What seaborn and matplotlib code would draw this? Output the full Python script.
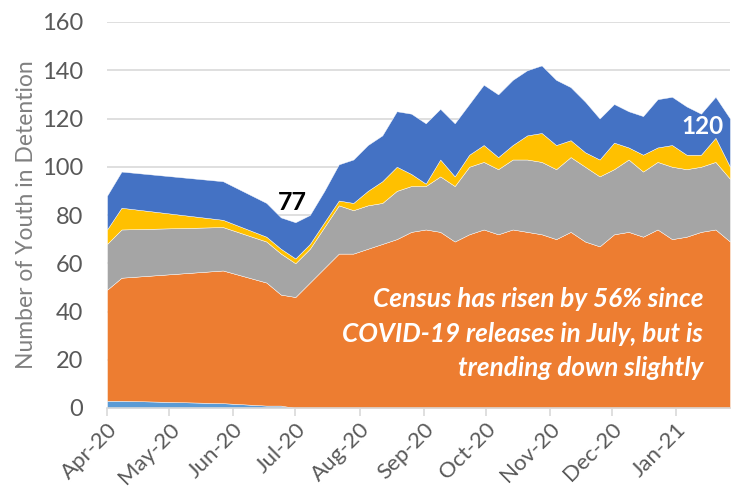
import pandas as pd
import matplotlib.pyplot as plt
import matplotlib.dates as mdates
import seaborn as sns

# Weekly census dates (Wednesdays); some weeks in spring are missing
dates = pd.to_datetime([
    "2020-04-01", "2020-04-08", "2020-05-27", "2020-06-17", "2020-06-24",
    "2020-07-01", "2020-07-08", "2020-07-15", "2020-07-22", "2020-07-29",
    "2020-08-05", "2020-08-12", "2020-08-19", "2020-08-26", "2020-09-02",
    "2020-09-09", "2020-09-16", "2020-09-23", "2020-09-30", "2020-10-07",
    "2020-10-14", "2020-10-21", "2020-10-28", "2020-11-04", "2020-11-11",
    "2020-11-18", "2020-11-25", "2020-12-02", "2020-12-09", "2020-12-16",
    "2020-12-23", "2020-12-30", "2021-01-06", "2021-01-13", "2021-01-20",
    "2021-01-27",
])

# stacked series, bottom to top
light_blue = [3, 3, 2, 1, 1, 0, 0, 0, 0, 0, 0, 0, 0, 0, 0, 0, 0, 0,
              0, 0, 0, 0, 0, 0, 0, 0, 0, 0, 0, 0, 0, 0, 0, 0, 0, 0]
orange = [46, 51, 55, 51, 46, 46, 52, 58, 64, 64, 66, 68, 70, 73, 74, 73, 69, 72,
          74, 72, 74, 73, 72, 70, 73, 69, 67, 72, 73, 71, 74, 70, 71, 73, 74, 69]
gray = [19, 20, 18, 17, 17, 14, 14, 17, 20, 18, 18, 17, 20, 19, 18, 23, 23, 28,
        28, 27, 29, 30, 30, 29, 31, 31, 29, 27, 30, 27, 28, 30, 28, 27, 28, 26]
yellow = [6, 9, 3, 2, 2, 2, 2, 2, 2, 3, 6, 9, 10, 5, 1, 7, 4, 5,
          7, 5, 6, 10, 12, 10, 7, 6, 7, 11, 5, 7, 6, 9, 6, 5, 10, 5]
blue = [14, 15, 16, 14, 13, 15, 12, 13, 15, 18, 19, 19, 23, 25, 25, 21, 22, 21,
        25, 26, 27, 27, 28, 27, 22, 21, 17, 16, 15, 16, 20, 20, 20, 17, 17, 20]

colors = ["#5B9BD5", "#ED7D31", "#A5A5A5", "#FFC000", "#4472C4"]

sns.set_theme(style="white")
plt.rcParams["font.family"] = ["Lato", "DejaVu Sans"]

fig = plt.figure(figsize=(7.31, 5), dpi=100)
ax = fig.add_axes([0.1464, 0.184, 0.8522, 0.772])

ax.stackplot(dates, light_blue, orange, gray, yellow, blue, colors=colors,
             edgecolor="white", linewidth=0.3, zorder=2)

ax.set_ylim(0, 160)
ax.set_yticks(range(0, 161, 20))
ax.set_xlim(dates[0], dates[-1])
ax.yaxis.grid(True, color="#D9D9D9", linewidth=1.2, zorder=0)
ax.set_axisbelow(True)

for s in ["top", "right", "left"]:
    ax.spines[s].set_visible(False)
ax.spines["bottom"].set_color("#D9D9D9")
ax.spines["bottom"].set_linewidth(1.2)
ax.spines["bottom"].set_zorder(3)

ax.xaxis.set_major_locator(mdates.MonthLocator())
ax.xaxis.set_major_formatter(mdates.DateFormatter("%b-%y"))
ax.tick_params(axis="x", direction="out", length=6, width=1.2, color="#D9D9D9",
               labelsize=16, labelcolor="#595959", bottom=True, pad=2)
ax.tick_params(axis="y", length=0, labelsize=17, labelcolor="#595959", pad=17)
plt.setp(ax.get_xticklabels(), rotation=45, ha="right", rotation_mode="anchor")

ax.set_ylabel("Number of Youth in Detention", fontsize=16.5, color="#808080", labelpad=4)

tot = [a + b + c + d + e for a, b, c, d, e in zip(light_blue, orange, gray, yellow, blue)]
ax.annotate(str(tot[5]), (dates[5], tot[5]), xytext=(-2, 14), textcoords="offset points",
            ha="center", va="center", fontsize=18, fontweight="bold", color="black",
            zorder=5)
ax.annotate(str(tot[-1]), (dates[-1], tot[-1]), xytext=(-20, -6), textcoords="offset points",
            ha="center", va="center", fontsize=17.5, fontweight="bold", color="white",
            zorder=5)

ax.text(0.957, 0.192,
        "Census has risen by 56% since\nCOVID-19 releases in July, but is\ntrending down slightly",
        transform=ax.transAxes, ha="right", va="center", color="white",
        fontsize=18.8, fontweight="bold", fontstyle="italic", linespacing=1.52, zorder=5)

fig.savefig("out.png", dpi=100)
